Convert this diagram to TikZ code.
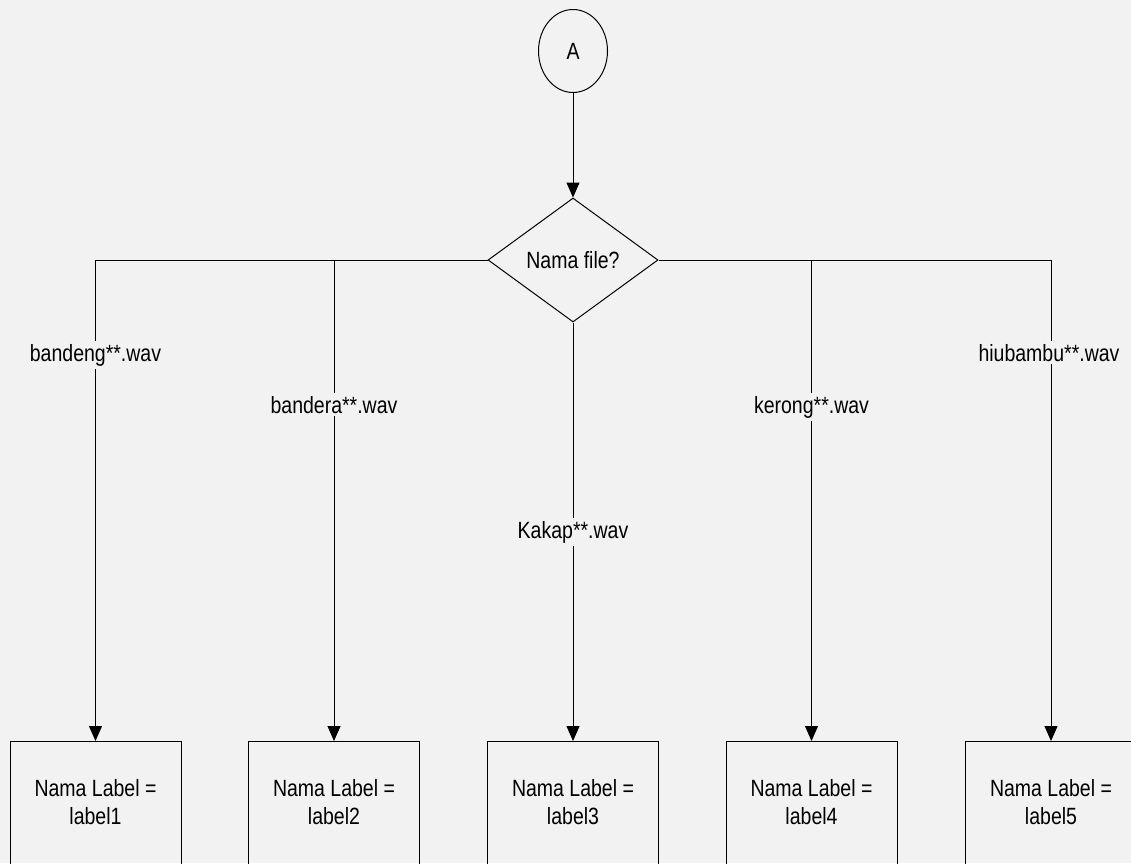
\documentclass[tikz,border=0pt]{standalone}
\usepackage{fontspec}
\setmainfont[FakeStretch=0.83]{Liberation Sans}
\usetikzlibrary{shapes.geometric,arrows.meta}
\definecolor{bg}{HTML}{F2F2F2}
\begin{document}
\begin{tikzpicture}[x=1pt,y=-1pt,
  every node/.style={font=\fontsize{23.5}{28}\selectfont},
  arr/.style={draw=black,line width=1pt,-{Triangle[length=15pt,width=13pt]}},
  terminal/.style={ellipse,draw,line width=1pt,minimum width=69pt,minimum height=83pt,inner sep=0pt},
  decision/.style={diamond,draw,line width=1pt,minimum width=170pt,minimum height=124pt,inner sep=0pt},
  procbox/.style={rectangle,draw,line width=1pt,minimum width=171pt,minimum height=160pt,inner sep=0pt,anchor=north},
  boxtext/.style={align=center,inner sep=0pt},
  edgelabel/.style={fill=bg,inner sep=3pt,anchor=base}
]
\fill[bg] (0,0) rectangle (1131,863);
\useasboundingbox (0,0) rectangle (1131,863);
\clip (0,0) rectangle (1131,863);

\node[terminal] (A) at (573,51) {A};
\node[decision] (dec) at (573,260) {Nama file?};

\node[procbox] (box1) at (95.5,741) {};
\node[procbox] (box2) at (334,741) {};
\node[procbox] (box3) at (573,741) {};
\node[procbox] (box4) at (811.5,741) {};
\node[procbox] (box5) at (1051,741) {};

\node[boxtext] (t1) at (95.5,802) {Nama Label =\\label1};
\node[boxtext] (t2) at (334,802) {Nama Label =\\label2};
\node[boxtext] (t3) at (573,802) {Nama Label =\\label3};
\node[boxtext] (t4) at (811.5,802) {Nama Label =\\label4};
\node[boxtext] (t5) at (1051,802) {Nama Label =\\label5};

\draw[arr] (A) -- (dec);
\draw[arr] (dec.west) -| (box1.north);
\draw[arr] (dec.west) -| (box2.north);
\draw[arr] (dec.south) -- (box3.north);
\draw[arr] (dec.east) -| (box4.north);
\draw[arr] (dec.east) -| (box5.north);

\node[edgelabel] (l1) at (95.5,361) {bandeng**.wav};
\node[edgelabel] (l2) at (334,413) {bandera**.wav};
\node[edgelabel] (l3) at (573,538) {Kakap**.wav};
\node[edgelabel] (l4) at (811.5,413) {kerong**.wav};
\node[edgelabel] (l5) at (1049,361) {hiubambu**.wav};
\end{tikzpicture}
\end{document}
